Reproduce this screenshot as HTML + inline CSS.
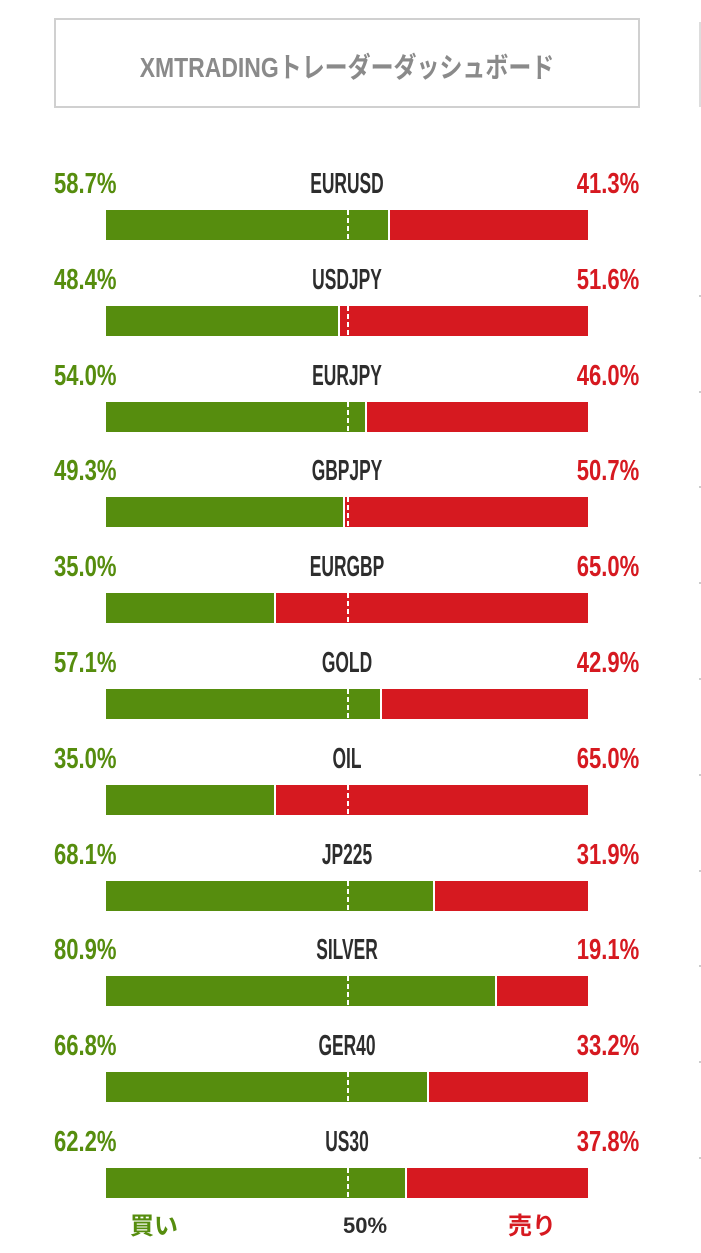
<!DOCTYPE html>
<html><head><meta charset="utf-8"><style>
body{margin:0;width:701px;height:1253px;background:#fff;position:relative;overflow:hidden;font-family:"Liberation Sans","Noto Sans CJK JP",sans-serif}
.hdr{position:absolute;left:54px;top:18px;width:582px;height:86px;border:2px solid #d0d0d0}
.hdr span{position:absolute;left:0;right:0;top:26px;text-align:center;font-size:28px;color:#8a8a8a;font-weight:bold;transform:scaleX(0.82);white-space:nowrap}
.t{position:absolute;font-size:29px;font-weight:bold;transform:scaleX(0.76);white-space:nowrap;line-height:30px}
.g{color:#568d0e}.r{color:#d61920}.k{color:#2d2d2d}
.bar{position:absolute;left:106px;width:482px;height:30px}
.bar .gb{position:absolute;left:0;top:0;height:30px;background:#568d0e}
.bar .rb{position:absolute;right:0;top:0;height:30px;background:#d61920}
.bar .d{position:absolute;left:241px;top:0;width:2px;height:30px;background:repeating-linear-gradient(#fff 0 5px,transparent 5px 8px)}
</style></head><body>
<div class="hdr"><span>XMTRADINGトレーダーダッシュボード</span></div>
<div style="position:absolute;left:699px;top:22px;width:2px;height:85px;background:#ddd"></div>
<div id="c"></div>
<script>
const d=[["EURUSD",58.7],["USDJPY",48.4],["EURJPY",54.0],["GBPJPY",49.3],["EURGBP",35.0],["GOLD",57.1],["OIL",35.0],["JP225",68.1],["SILVER",80.9],["GER40",66.8],["US30",62.2]];
let h="";
d.forEach((e,i)=>{const y=169+i*95.8;const w=482*e[1]/100;
h+=`<div class="t g" style="left:54px;top:${y}px;transform-origin:left">${e[1].toFixed(1)}%</div>`;
h+=`<div class="t k" style="left:247px;width:200px;text-align:center;top:${y}px;transform:scaleX(0.6)">${e[0]}</div>`;
h+=`<div class="t r" style="right:62px;top:${y}px;transform-origin:right">${(100-e[1]).toFixed(1)}%</div>`;
h+=`<div class="bar" style="top:${y+41}px"><div class="gb" style="width:${w-1}px"></div><div class="rb" style="width:${482-w-1}px"></div><div class="d"></div></div>`;
if(i>0)h+=`<div style="position:absolute;left:699px;top:${y+30}px;width:2px;height:2px;background:#ccc"></div>`;
});
document.getElementById("c").innerHTML=h;
</script>
<div class="t g" style="left:130px;top:1212px;font-size:24px;transform:none">買い</div>
<div style="position:absolute;left:325px;width:80px;text-align:center;top:1213px;font-size:22px;font-weight:bold;color:#2d2d2d">50%</div>
<div class="t r" style="left:508px;top:1212px;font-size:24px;transform:none">売り</div>
</body></html>
